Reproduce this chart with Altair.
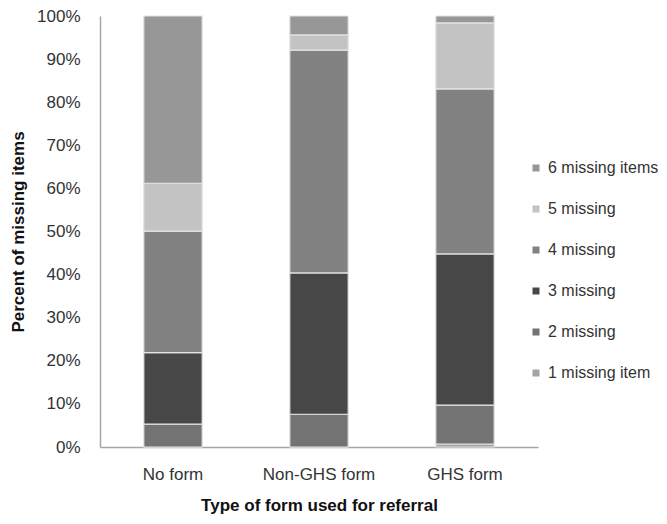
import altair as alt
import pandas as pd

forms = ["No form", "Non-GHS form", "GHS form"]
categories = ["1 missing item", "2 missing", "3 missing", "4 missing", "5 missing", "6 missing items"]
no_form = [0.0, 5.3, 16.6, 28.2, 11.1, 38.8]
non_ghs = [0.0, 7.6, 32.8, 51.7, 3.5, 4.4]
ghs = [0.7, 9.0, 35.1, 38.3, 15.3, 1.6]
colors = ["#a3a3a3", "#737373", "#474747", "#828282", "#c3c3c3", "#979797"]
y_ticks = [0, 10, 20, 30, 40, 50, 60, 70, 80, 90, 100]

rows = []
for form, vals in zip(forms, [no_form, non_ghs, ghs]):
    for k, (cat, v) in enumerate(zip(categories, vals)):
        rows.append({"form": form, "cat": cat, "k": k, "pct": v})
df = pd.DataFrame(rows)

font = "Liberation Sans"

chart = alt.Chart(df).mark_bar(stroke="#e4e4e4", strokeWidth=1.2).encode(
    x=alt.X("form:N", sort=forms, title="Type of form used for referral",
            scale=alt.Scale(paddingInner=0.6, paddingOuter=0.3),
            axis=alt.Axis(labelAngle=0, ticks=False, labelPadding=19, titlePadding=15,
                          domainColor="#a6a6a6", domainWidth=1.5)),
    y=alt.Y("pct:Q", stack="zero", title="Percent of missing items",
            scale=alt.Scale(domain=[0, 100], nice=False),
            axis=alt.Axis(values=y_ticks, labelExpr="datum.value + '%'", grid=False, ticks=False,
                          labelPadding=20, titlePadding=9,
                          domainColor="#a6a6a6", domainWidth=1.5)),
    color=alt.Color("cat:N",
                    scale=alt.Scale(domain=categories[::-1], range=colors[::-1]),
                    legend=alt.Legend(title=None, orient="none", legendX=428, legendY=144,
                                      symbolType="square", symbolSize=49, symbolStrokeWidth=0,
                                      labelFontSize=16, labelFont=font, labelColor="#333333",
                                      rowPadding=25, labelOffset=4, padding=0)),
    order=alt.Order("k:Q", sort="ascending"),
).properties(
    width=438, height=431,
    autosize=alt.AutoSizeParams(type="none"),
    padding={"left": 92, "top": 8, "right": 121, "bottom": 69},
).configure_view(stroke=None).configure_axis(
    labelFont=font, titleFont=font, labelFontSize=17, titleFontSize=17,
    labelColor="#333333", titleColor="#111111", titleFontWeight="bold",
)

chart.save("out.html", embed_options={"renderer": "svg", "actions": False})
